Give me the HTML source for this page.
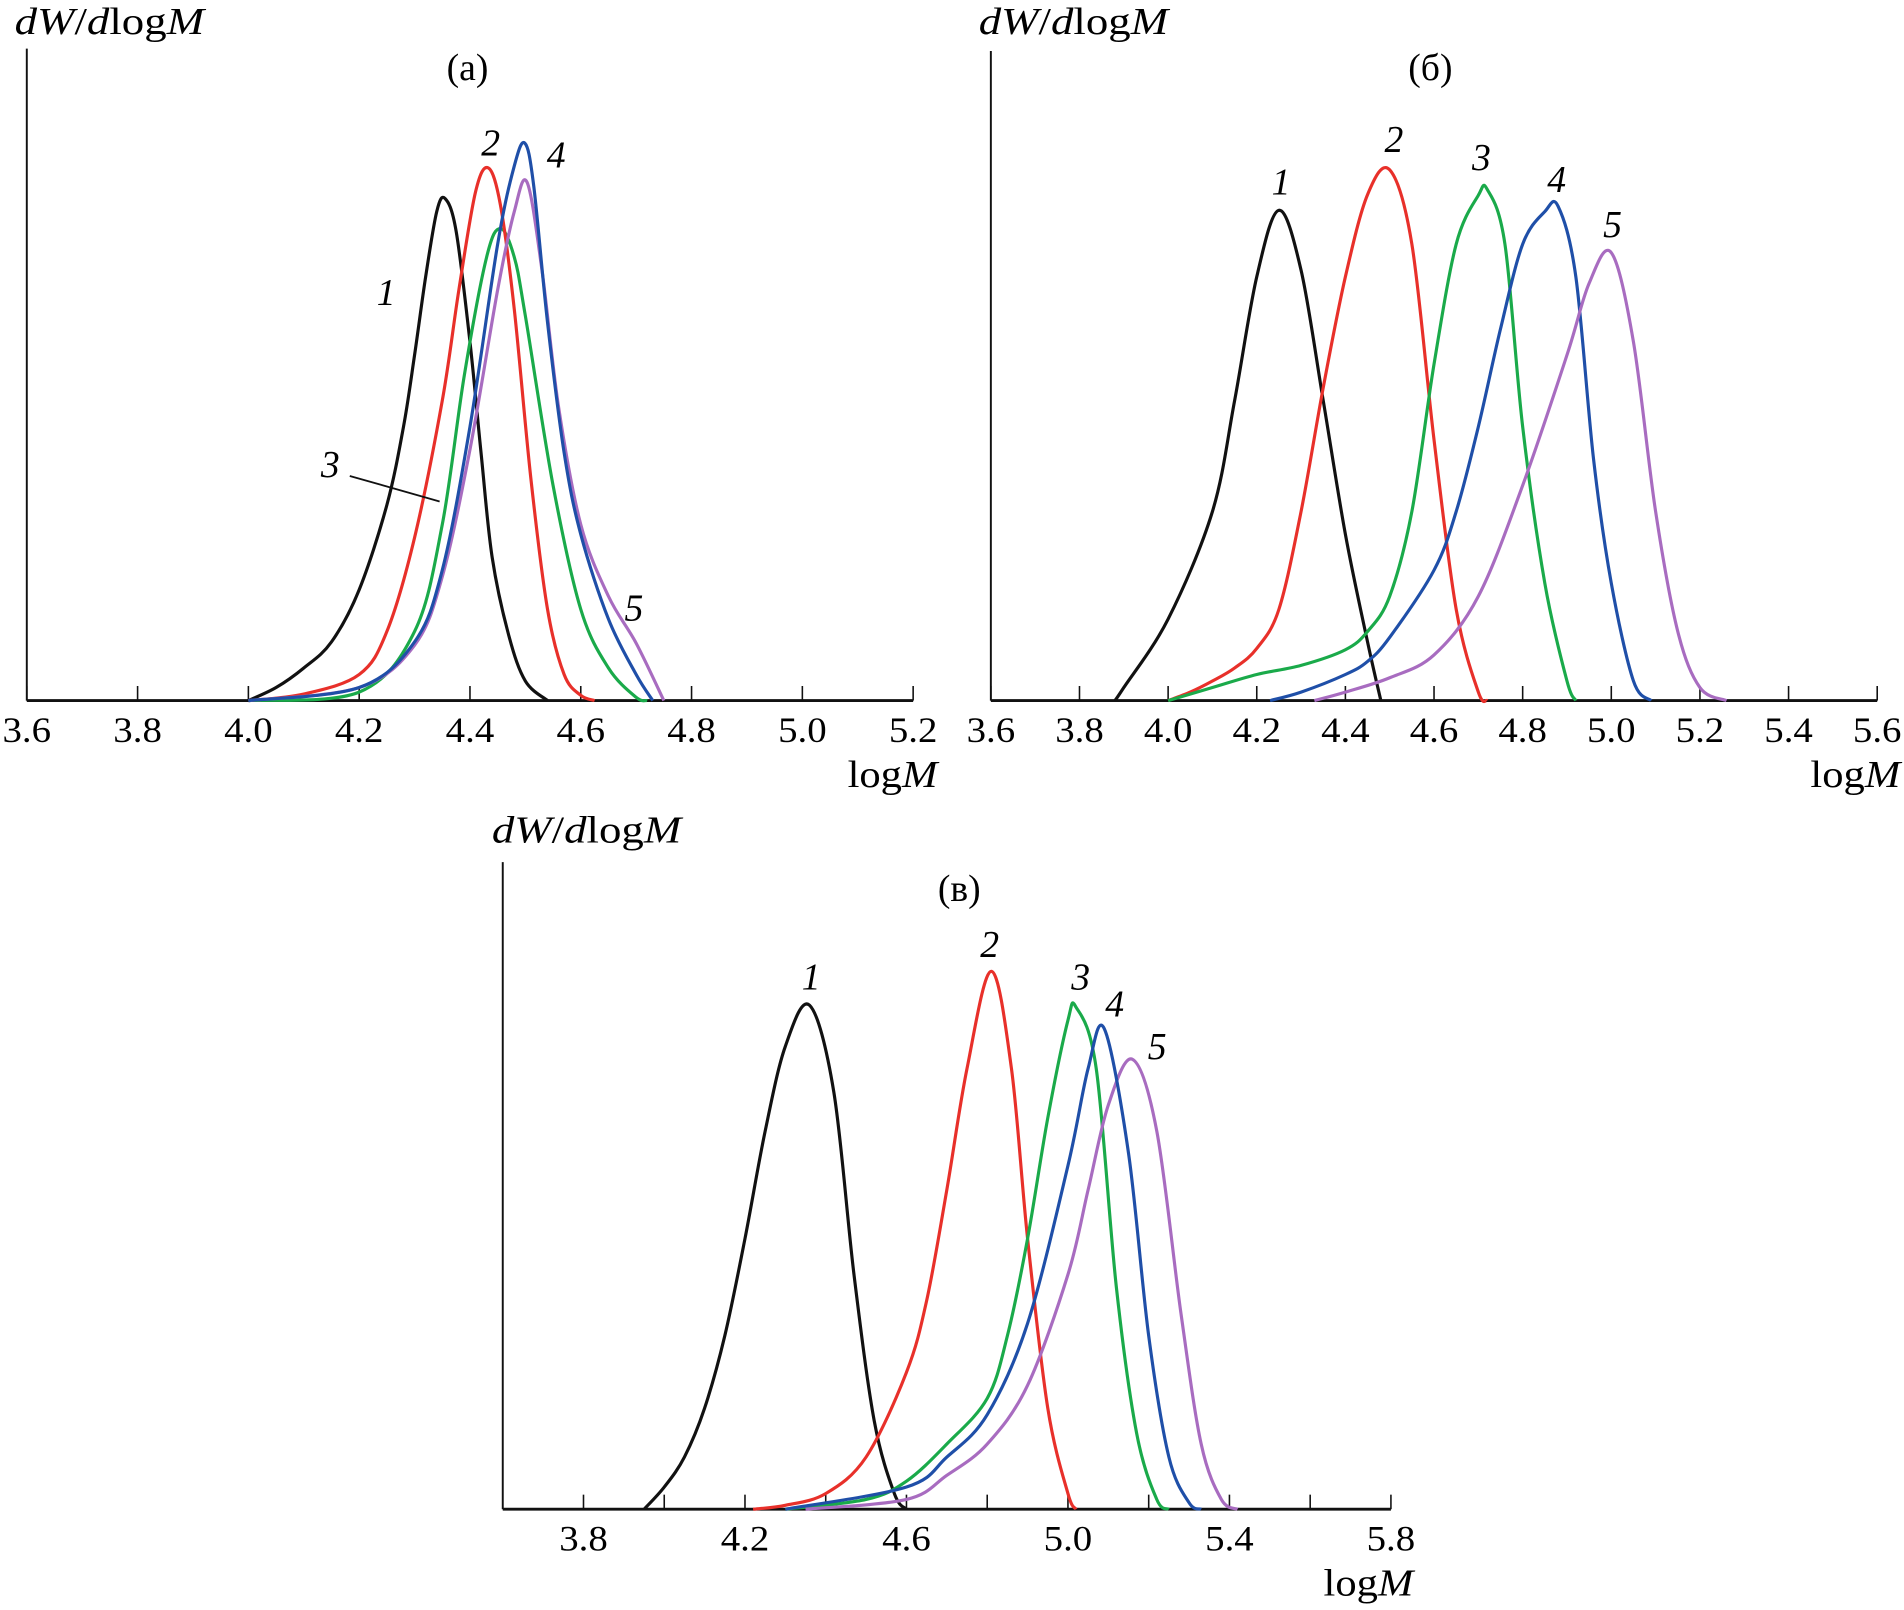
<!DOCTYPE html>
<html><head><meta charset="utf-8"><style>
html,body{margin:0;padding:0;background:#fff;}
svg{display:block;font-family:"Liberation Serif",serif;}
</style></head><body>
<svg id="chart" width="1904" height="1610" viewBox="0 0 1568 1326" xmlns="http://www.w3.org/2000/svg">
<g id="root"></g>
</svg>
<script>
// Panel (a)
const aBlack=[[4.0,0],[4.05,2],[4.1,5],[4.15,9],[4.2,17],[4.25,30],[4.28,42],[4.3,53],[4.32,65],[4.34,75],[4.355,77],[4.375,72],[4.4,55],[4.42,38],[4.44,22],[4.47,10],[4.5,3],[4.54,0]];
const aRed=[[4.0,0],[4.1,1],[4.2,4],[4.25,10.6],[4.3,25],[4.35,46],[4.38,63],[4.41,78],[4.433,81.7],[4.455,76],[4.48,60],[4.51,34],[4.54,14],[4.57,4],[4.6,0.8],[4.625,0]];
const aGreen=[[4.0,0],[4.2,1.3],[4.3,10.6],[4.35,27],[4.39,50],[4.43,68],[4.455,72.4],[4.48,68],[4.5,59],[4.55,33],[4.6,14],[4.65,5],[4.7,0.5],[4.72,0]];
const aBlue=[[4.0,0],[4.2,2],[4.3,9],[4.35,20],[4.4,42],[4.45,70],[4.48,82],[4.499,85.5],[4.515,79],[4.54,58],[4.57,38],[4.6,25.5],[4.65,12.5],[4.7,4],[4.73,0]];
const aPurple=[[4.0,0],[4.2,2],[4.3,8.5],[4.35,19],[4.4,38.5],[4.45,63],[4.48,75],[4.503,79.5],[4.53,66],[4.56,45],[4.6,27],[4.65,16],[4.7,8.8],[4.75,0]];
// Panel (б)
const bBlack=[[3.88,0],[3.9,2],[4.0,12.5],[4.1,29],[4.15,46],[4.2,65],[4.25,75.2],[4.3,66],[4.35,46],[4.4,25.5],[4.45,9],[4.48,0]];
const bRed=[[4.0,0],[4.05,1.3],[4.1,3],[4.15,5],[4.2,8],[4.25,14],[4.3,29],[4.35,48],[4.4,65],[4.45,77.6],[4.5,81.4],[4.55,70],[4.6,40],[4.65,14],[4.7,1.3],[4.72,0]];
const bGreen=[[4.0,0],[4.1,2],[4.2,4],[4.3,5.4],[4.4,7.8],[4.45,10.6],[4.5,16],[4.55,29],[4.6,51.6],[4.65,70],[4.7,77.5],[4.72,78.4],[4.76,70],[4.8,42],[4.85,18],[4.9,3],[4.92,0]];
const bBlue=[[4.23,0],[4.3,1.3],[4.4,4],[4.45,6],[4.5,9.7],[4.6,20],[4.65,29],[4.7,42],[4.75,57],[4.8,70],[4.85,75],[4.88,75.8],[4.92,65],[4.96,37],[5.0,18],[5.05,3],[5.09,0]];
const bPurple=[[4.33,0],[4.4,1.3],[4.5,3.5],[4.6,7],[4.7,16],[4.8,33],[4.9,53],[4.95,64],[5.0,68.7],[5.05,55],[5.1,29],[5.15,10.6],[5.2,2],[5.26,0]];
// Panel (в)
const cBlack=[[3.95,0],[4.0,3.4],[4.05,8],[4.1,15.5],[4.15,26.6],[4.2,41.5],[4.25,58],[4.3,71],[4.36,77.3],[4.42,64],[4.47,36],[4.52,13.6],[4.57,2.4],[4.6,0]];
const cRed=[[4.22,0],[4.3,0.6],[4.4,2.4],[4.5,8],[4.6,21],[4.65,32],[4.7,49],[4.75,67.6],[4.81,82.5],[4.86,67.6],[4.9,41.5],[4.95,15.5],[5.0,2.4],[5.02,0]];
const cGreen=[[4.3,0],[4.5,1.5],[4.6,4.3],[4.7,10],[4.8,17],[4.85,26.6],[4.9,41.5],[4.95,60],[5.0,75],[5.02,77],[5.07,67.6],[5.12,34],[5.17,11.7],[5.22,1.5],[5.25,0]];
const cBlue=[[4.3,0],[4.6,3.4],[4.7,8],[4.8,14.5],[4.9,28.5],[5.0,52.7],[5.05,67.6],[5.09,73.7],[5.15,54.6],[5.2,26.6],[5.25,8],[5.3,1],[5.33,0]];
const cPurple=[[4.35,0],[4.6,1.5],[4.7,5.2],[4.8,10],[4.9,19],[5.0,36],[5.05,49],[5.1,62],[5.16,69],[5.22,58],[5.28,30],[5.33,10],[5.38,1.5],[5.42,0]];
const aTicks=[3.6,3.8,4.0,4.2,4.4,4.6,4.8,5.0,5.2];
const bTicks=[3.6,3.8,4.0,4.2,4.4,4.6,4.8,5.0,5.2,5.4,5.6];
const cTickLabels=[3.8,4.2,4.6,5.0,5.4,5.8];
const cTicks=[3.8,4.0,4.2,4.4,4.6,4.8,5.0,5.2,5.4,5.6,5.8];

const NS="http://www.w3.org/2000/svg";
const root=document.getElementById('root');
function mk(tag,attrs,parent){const e=document.createElementNS(NS,tag);for(const k in attrs)e.setAttribute(k,attrs[k]);(parent||root).appendChild(e);return e;}
const COL={black:"#111",red:"#e8302a",green:"#1aaa4a",blue:"#1f4fa8",purple:"#a86cc0"};
function pathD(pts){
  let d="M"+pts[0][0].toFixed(2)+","+pts[0][1].toFixed(2);
  for(let i=0;i<pts.length-1;i++){
    const p0=pts[Math.max(0,i-1)],p1=pts[i],p2=pts[i+1],p3=pts[Math.min(pts.length-1,i+2)];
    const c1=[p1[0]+(p2[0]-p0[0])/6,p1[1]+(p2[1]-p0[1])/6];
    const c2=[p2[0]-(p3[0]-p1[0])/6,p2[1]-(p3[1]-p1[1])/6];
    d+=` C${c1[0].toFixed(2)},${c1[1].toFixed(2)} ${c2[0].toFixed(2)},${c2[1].toFixed(2)} ${p2[0].toFixed(2)},${p2[1].toFixed(2)}`;
  }
  return d;
}
function panel(cfg){
  const g=mk('g',{});
  
  
  const xs=v=>cfg.x0+(v-cfg.v0)*cfg.pxPer;
  const ys=v=>cfg.base-v*5.37;
  const ya=mk('line',{x1:cfg.x0,y1:cfg.top,x2:cfg.x0,y2:cfg.base,stroke:"#111","stroke-width":1.6},g);
  
  
  const xa=mk('line',{x1:cfg.x0,y1:cfg.base,x2:xs(cfg.v1),y2:cfg.base,stroke:"#111","stroke-width":2.4},g);
  
  
  cfg.ticks.forEach(t=>{
    const l=mk('line',{x1:xs(t),y1:cfg.base,x2:xs(t),y2:cfg.base-12,stroke:"#111","stroke-width":1.3},g);
    
    
  });
  cfg.labels.forEach(t=>{
    const tx=mk('text',{x:xs(t),y:cfg.base+34,"text-anchor":"middle","font-size":30,"textLength":40,"lengthAdjust":"spacingAndGlyphs"},g);
    
    
    tx.textContent=t.toFixed(1);
  });
  cfg.series.forEach(s=>{
    const p=mk('path',{d:pathD(s.data.map(q=>[xs(q[0]),ys(q[1])])),fill:"none",stroke:COL[s.c],"stroke-width":2.6,"stroke-linejoin":"round"},g);
    
    
  });
  return g;
}
panel({name:'panel-a',x0:22,v0:3.6,v1:5.2,pxPer:456.25,base:577,top:40,ticks:aTicks,labels:aTicks,
 series:[{n:1,c:'black',data:aBlack},{n:3,c:'green',data:aGreen},{n:2,c:'red',data:aRed},{n:5,c:'purple',data:aPurple},{n:4,c:'blue',data:aBlue}]});
panel({name:'panel-b',x0:816,v0:3.6,v1:5.6,pxPer:365,base:577,top:42,ticks:bTicks,labels:bTicks,
 series:[{n:1,c:'black',data:bBlack},{n:2,c:'red',data:bRed},{n:3,c:'green',data:bGreen},{n:4,c:'blue',data:bBlue},{n:5,c:'purple',data:bPurple}]});
panel({name:'panel-c',x0:414,v0:3.6,v1:5.8,pxPer:332.5,base:1243,top:710,ticks:cTicks,labels:cTickLabels,
 series:[{n:1,c:'black',data:cBlack},{n:2,c:'red',data:cRed},{n:3,c:'green',data:cGreen},{n:5,c:'purple',data:cPurple},{n:4,c:'blue',data:cBlue}]});
</script>
<script>
(function(){
const NS="http://www.w3.org/2000/svg";
const root=document.getElementById('root');
function txt(x,y,s,name,opts){
  const t=document.createElementNS(NS,'text');
  t.setAttribute('x',x);t.setAttribute('y',y);
  t.setAttribute('font-size',(opts&&opts.size)||31);
  if(opts&&opts.italic)t.setAttribute('font-style','italic');
  if(opts&&opts.anchor)t.setAttribute('text-anchor',opts.anchor);
  if(opts&&opts.len){t.setAttribute('textLength',opts.len);t.setAttribute('lengthAdjust','spacingAndGlyphs');}
  
  
  t.innerHTML=s;root.appendChild(t);
}
const yl='<tspan font-style="italic">dW</tspan>/<tspan font-style="italic">d</tspan>log<tspan font-style="italic">M</tspan>';
const xl='log<tspan font-style="italic">M</tspan>';
txt(12,28,yl,'y-axis-title-a',{len:156});
txt(806,28,yl,'y-axis-title-b',{len:156});
txt(405,694,yl,'y-axis-title-c',{len:156});
txt(698,648,xl,'x-axis-title-a',{len:74});
txt(1491,648,xl,'x-axis-title-b',{len:74});
txt(1090,1314,xl,'x-axis-title-c',{len:74});
txt(385,66,'(a)','panel-label-a',{anchor:'middle'});
txt(1178,66,'(б)','panel-label-b',{anchor:'middle'});
txt(790,742,'(в)','panel-label-c',{anchor:'middle'});
const L=[[318,251,'1'],[404,128,'2'],[272,393,'3'],[458,138,'4'],[522,511,'5'],
[1055,160,'1'],[1148,125,'2'],[1220,140,'3'],[1282,158,'4'],[1328,195,'5'],
[668,815,'1'],[815,788,'2'],[890,815,'3'],[918,837,'4'],[953,872,'5']];
L.forEach(l=>txt(l[0],l[1],l[2],'curve-number-label',{italic:true,anchor:'middle'}));
const ln=document.createElementNS(NS,'line');
ln.setAttribute('x1',288);ln.setAttribute('y1',392);ln.setAttribute('x2',362);ln.setAttribute('y2',413);
ln.setAttribute('stroke','#111');ln.setAttribute('stroke-width',1.5);


root.appendChild(ln);
})();
</script>
</body></html>
